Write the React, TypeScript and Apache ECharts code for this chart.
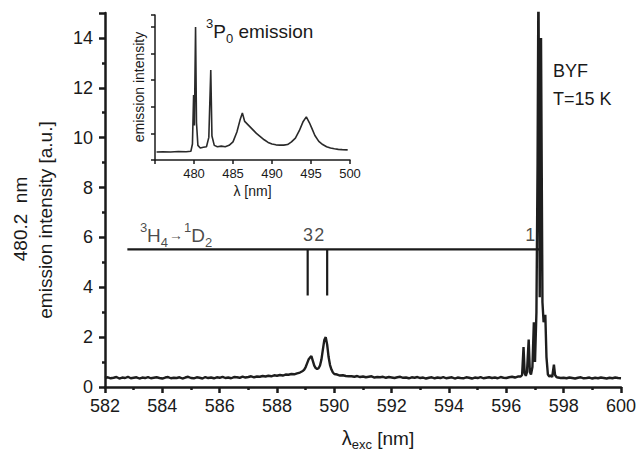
import React, { useEffect, useRef } from "react";
import * as echarts from "echarts";

// ---- Main excitation spectrum (480.2 nm emission) ----
// baseline segment 582.0 .. 588.4 nm, step 0.1
const segAStart = 582.0;
const segA: number[] = [
  0.36, 0.39, 0.35, 0.37, 0.40, 0.34, 0.38, 0.36, 0.41, 0.35,
  0.37, 0.39, 0.34, 0.38, 0.36, 0.40, 0.35, 0.37, 0.39, 0.36,
  0.34, 0.38, 0.40, 0.35, 0.37, 0.36, 0.39, 0.34, 0.38, 0.41,
  0.36, 0.35, 0.39, 0.37, 0.34, 0.40, 0.36, 0.38, 0.35, 0.39,
  0.37, 0.41, 0.36, 0.38, 0.35, 0.40, 0.39, 0.37, 0.42, 0.38,
  0.40, 0.43, 0.39, 0.42, 0.41, 0.44, 0.42, 0.45, 0.43, 0.47,
  0.45, 0.48, 0.46, 0.50, 0.49,
];
// peaks 2 and 3 near 589 nm
const peaks589: [number, number][] = [
  [588.5, 0.52], [588.6, 0.51], [588.7, 0.55], [588.8, 0.58], [588.9, 0.64],
  [588.95, 0.70], [589.0, 0.80], [589.05, 0.95], [589.1, 1.10], [589.15, 1.18],
  [589.2, 1.24], [589.25, 1.05], [589.3, 0.86], [589.35, 0.76], [589.4, 0.72],
  [589.45, 0.75], [589.5, 0.86], [589.55, 1.10], [589.6, 1.50], [589.65, 1.88],
  [589.7, 2.00], [589.75, 1.70], [589.8, 1.20], [589.85, 0.88], [589.9, 0.70],
  [589.95, 0.58], [590.0, 0.52], [590.1, 0.50], [590.2, 0.46], [590.3, 0.47],
  [590.4, 0.44], [590.5, 0.43],
];
// baseline segment 590.6 .. 596.4 nm, step 0.1
const segBStart = 590.6;
const segB: number[] = [
  0.43, 0.41, 0.44, 0.40, 0.42, 0.39, 0.41, 0.43, 0.38, 0.40,
  0.39, 0.41, 0.37, 0.40, 0.38, 0.36, 0.39, 0.41, 0.37, 0.38,
  0.35, 0.39, 0.37, 0.40, 0.36, 0.38, 0.34, 0.37, 0.39, 0.35,
  0.38, 0.36, 0.40, 0.35, 0.37, 0.39, 0.34, 0.38, 0.36, 0.35,
  0.39, 0.37, 0.34, 0.38, 0.36, 0.40, 0.35, 0.37, 0.39, 0.36,
  0.38, 0.35, 0.40, 0.37, 0.36, 0.39, 0.41, 0.38, 0.42,
];
// peak 1 structure near 597 nm
const peaks597: [number, number][] = [
  [596.5, 0.42], [596.55, 0.48], [596.6, 1.6], [596.64, 0.55], [596.68, 0.45],
  [596.72, 0.6], [596.78, 1.9], [596.82, 0.6], [596.86, 0.5], [596.91, 0.8],
  [596.96, 2.6], [597.0, 1.0], [597.05, 3.0], [597.09, 9.0], [597.12, 16.5],
  [597.165, 3.6], [597.21, 14.0], [597.26, 3.4], [597.3, 2.6], [597.36, 2.9],
  [597.4, 1.2], [597.45, 0.5], [597.5, 0.42], [597.55, 0.47], [597.6, 0.40],
  [597.66, 0.90], [597.7, 0.48], [597.75, 0.40], [597.8, 0.38], [597.9, 0.36],
];
// baseline segment 598.0 .. 600.0 nm, step 0.1
const segCStart = 598.0;
const segC: number[] = [
  0.37, 0.35, 0.38, 0.36, 0.34, 0.37, 0.39, 0.35, 0.36, 0.38,
  0.34, 0.37, 0.35, 0.38, 0.36, 0.34, 0.37, 0.35, 0.38, 0.36, 0.35,
];
const segStep = 0.1;

// ---- Inset: 3P0 emission spectrum ----
const insetSpectrum: [number, number][] = [
  [475.2, 0.30], [476, 0.31], [477, 0.30], [478, 0.32], [479, 0.31], [479.6, 0.33],
  [479.8, 0.6], [479.95, 2.44], [480.05, 1.3], [480.2, 5.0], [480.32, 1.4],
  [480.5, 0.55], [480.8, 0.45], [481.2, 0.48], [481.6, 0.5], [481.9, 0.85],
  [482.15, 3.38], [482.3, 0.9], [482.6, 0.55], [483, 0.5], [483.5, 0.52],
  [484, 0.5], [484.5, 0.55], [485, 0.68], [485.5, 1.05], [485.9, 1.5],
  [486.2, 1.77], [486.5, 1.45], [487, 1.3], [487.5, 1.15], [488, 1.0],
  [488.5, 0.88], [489, 0.76], [489.5, 0.66], [490, 0.6], [490.5, 0.57],
  [491, 0.56], [491.5, 0.56], [492, 0.58], [492.5, 0.68], [493, 0.82],
  [493.5, 1.1], [494, 1.45], [494.4, 1.62], [494.8, 1.4], [495.1, 1.2],
  [495.5, 0.92], [496, 0.7], [496.5, 0.58], [497, 0.5], [497.5, 0.45],
  [498, 0.42], [498.5, 0.4], [499, 0.39], [499.7, 0.38],
];

// ---- Annotation: 3H4 -> 1D2 level diagram ----
const levelLine: [number, number][] = [[582.78, 5.52], [597.14, 5.52]];
const line3: [number, number][] = [[589.07, 5.52], [589.07, 3.67]];
const line2: [number, number][] = [[589.75, 5.52], [589.75, 3.67]];
const lineLabels = ["3", "2", "1"];
const lineLabelPos: [number, number][] = [[589.08, 6.1], [589.47, 6.1], [596.83, 6.1]];
const transitionLabelPos: [number, number] = [583.2, 6.08];

const xTicks = { min: 582, max: 600, step: 2 };
const yTicks = { min: 0, max: 15, step: 2 };

const FONT = "Liberation Sans, Arial, Helvetica, sans-serif";
const INK = "#1a1a1a";

function seg(start: number, vals: number[]): [number, number][] {
  return vals.map((v, i) => [Number((start + i * segStep).toFixed(2)), v]);
}

export default function App() {
  const ref = useRef<HTMLDivElement>(null);
  useEffect(() => {
    if (!ref.current) return;
    const chart = echarts.init(ref.current, undefined, { renderer: "svg" });
    const mainData = [
      ...seg(segAStart, segA),
      ...peaks589,
      ...seg(segBStart, segB),
      ...peaks597,
      ...seg(segCStart, segC),
    ];
    const axisLineStyle = { color: INK, width: 2.5 };
    const option: any = {
      animation: false,
      backgroundColor: "#ffffff",
      grid: [
        { left: 105, right: 21, top: 13, bottom: 66 },
        { left: 155, right: 292, top: 15, bottom: 296 },
      ],
      xAxis: [
        {
          gridIndex: 0,
          type: "value",
          min: xTicks.min,
          max: xTicks.max,
          interval: xTicks.step,
          axisLine: { onZero: false, lineStyle: axisLineStyle },
          axisTick: { length: 6, lineStyle: { color: INK, width: 2.5 } },
          minorTick: { show: true, splitNumber: 2, length: 3, lineStyle: { color: INK, width: 2.5 } },
          splitLine: { show: false },
          axisLabel: { fontSize: 18, color: INK, fontFamily: FONT, margin: 10 },
          name: "{l|λ}{s|exc}{n| [nm]}",
          nameLocation: "middle",
          nameGap: 38,
          nameTextStyle: {
            color: INK,
            padding: [0, 0, 0, 30],
            rich: {
              l: { fontSize: 20, fontFamily: FONT, color: INK, lineHeight: 26, verticalAlign: "middle" },
              s: { fontSize: 13, fontFamily: FONT, color: INK, verticalAlign: "bottom" },
              n: { fontSize: 19, fontFamily: FONT, color: INK, lineHeight: 26, verticalAlign: "middle" },
            },
          },
        },
        {
          gridIndex: 1,
          type: "value",
          min: 475,
          max: 500,
          interval: 5,
          axisLine: { onZero: false, lineStyle: { color: INK, width: 1.5 } },
          axisTick: { length: 4, lineStyle: { color: INK, width: 1.5 } },
          splitLine: { show: false },
          axisLabel: {
            fontSize: 13,
            color: INK,
            fontFamily: FONT,
            margin: 7,
            formatter: (v: number) => (v === 475 ? "" : String(v)),
          },
          name: "λ [nm]",
          nameLocation: "middle",
          nameGap: 24,
          nameTextStyle: { fontSize: 14, color: INK, fontFamily: FONT },
        },
      ],
      yAxis: [
        {
          gridIndex: 0,
          type: "value",
          min: yTicks.min,
          max: yTicks.max,
          interval: yTicks.step,
          axisLine: { onZero: false, lineStyle: axisLineStyle },
          axisTick: { length: 6, lineStyle: { color: INK, width: 2.5 } },
          minorTick: { show: true, splitNumber: 2, length: 3, lineStyle: { color: INK, width: 2.5 } },
          splitLine: { show: false },
          axisLabel: { fontSize: 18, color: INK, fontFamily: FONT, margin: 12, showMaxLabel: false },
        },
        {
          gridIndex: 1,
          type: "value",
          min: 0,
          max: 5.45,
          interval: 1,
          axisLine: { onZero: false, lineStyle: { color: INK, width: 1.5 } },
          axisTick: { length: 4, lineStyle: { color: INK, width: 1.5 } },
          splitLine: { show: false },
          axisLabel: { show: false },
        },
      ],
      series: [
        {
          type: "line",
          xAxisIndex: 0,
          yAxisIndex: 0,
          data: mainData,
          showSymbol: false,
          symbol: "none",
          lineStyle: { color: "#1e1e1e", width: 2.4 },
          clip: true,
        },
        {
          type: "line",
          xAxisIndex: 1,
          yAxisIndex: 1,
          data: insetSpectrum,
          showSymbol: false,
          symbol: "none",
          lineStyle: { color: "#2a2a2a", width: 1.6 },
        },
        ...[levelLine, line3, line2].map((d) => ({
          type: "line",
          xAxisIndex: 0,
          yAxisIndex: 0,
          data: d,
          showSymbol: false,
          symbol: "none",
          lineStyle: { color: INK, width: 2.2 },
        })),
        {
          type: "scatter",
          xAxisIndex: 0,
          yAxisIndex: 0,
          symbolSize: 1,
          itemStyle: { color: "rgba(0,0,0,0)" },
          data: [
            ...lineLabels.map((t, i) => ({
              value: lineLabelPos[i],
              label: {
                show: true,
                position: "inside",
                formatter: t,
                fontSize: 18,
                color: INK,
                fontFamily: FONT,
              },
            })),
            {
              value: transitionLabelPos,
              label: {
                show: true,
                position: "right",
                distance: 0,
                formatter: "{sup|3}{n|H}{sub|4}{arr|→}{sup|1}{n|D}{sub|2}",
                rich: {
                  sup: { fontSize: 13, color: INK, fontFamily: FONT, verticalAlign: "top" },
                  n: { fontSize: 19, color: INK, fontFamily: FONT, lineHeight: 28, verticalAlign: "middle" },
                  sub: { fontSize: 13, color: INK, fontFamily: FONT, verticalAlign: "bottom" },
                  arr: { fontSize: 14, color: INK, fontFamily: FONT, verticalAlign: "middle", padding: [0, 1, 0, 1] },
                },
              },
            },
          ],
        },
      ],
      graphic: [
        {
          type: "text",
          x: 20,
          y: 219,
          rotation: Math.PI / 2,
          style: { text: "480.2  nm", fontSize: 19, fontFamily: FONT, fill: INK, align: "center", verticalAlign: "middle" },
        },
        {
          type: "text",
          x: 45,
          y: 220,
          rotation: Math.PI / 2,
          style: {
            text: "emission intensity [a.u.]",
            fontSize: 19,
            fontFamily: FONT,
            fill: INK,
            align: "center",
            verticalAlign: "middle",
          },
        },
        {
          type: "text",
          x: 139,
          y: 87,
          rotation: Math.PI / 2,
          style: { text: "emission intensity", fontSize: 14, fontFamily: FONT, fill: INK, align: "center", verticalAlign: "middle" },
        },
        {
          type: "text",
          x: 206,
          y: 17,
          style: {
            text: "{sup|3}{n|P}{sub|0}{n| emission}",
            fill: INK,
            rich: {
              sup: { fontSize: 13, fontFamily: FONT, fill: INK, verticalAlign: "top" },
              n: { fontSize: 19, fontFamily: FONT, fill: INK, lineHeight: 28, verticalAlign: "middle" },
              sub: { fontSize: 13, fontFamily: FONT, fill: INK, verticalAlign: "bottom" },
            },
          },
        },
        {
          type: "text",
          x: 553,
          y: 62,
          style: { text: "BYF", fontSize: 18, fontFamily: FONT, fill: INK },
        },
        {
          type: "text",
          x: 553,
          y: 90,
          style: { text: "T=15 K", fontSize: 18, fontFamily: FONT, fill: INK },
        },
      ],
    };
    chart.setOption(option);
    return () => chart.dispose();
  }, []);
  return (
    <div
      ref={ref}
      style={{ position: "fixed", left: 0, top: 0, width: 642, height: 456, background: "#fff" }}
    />
  );
}
